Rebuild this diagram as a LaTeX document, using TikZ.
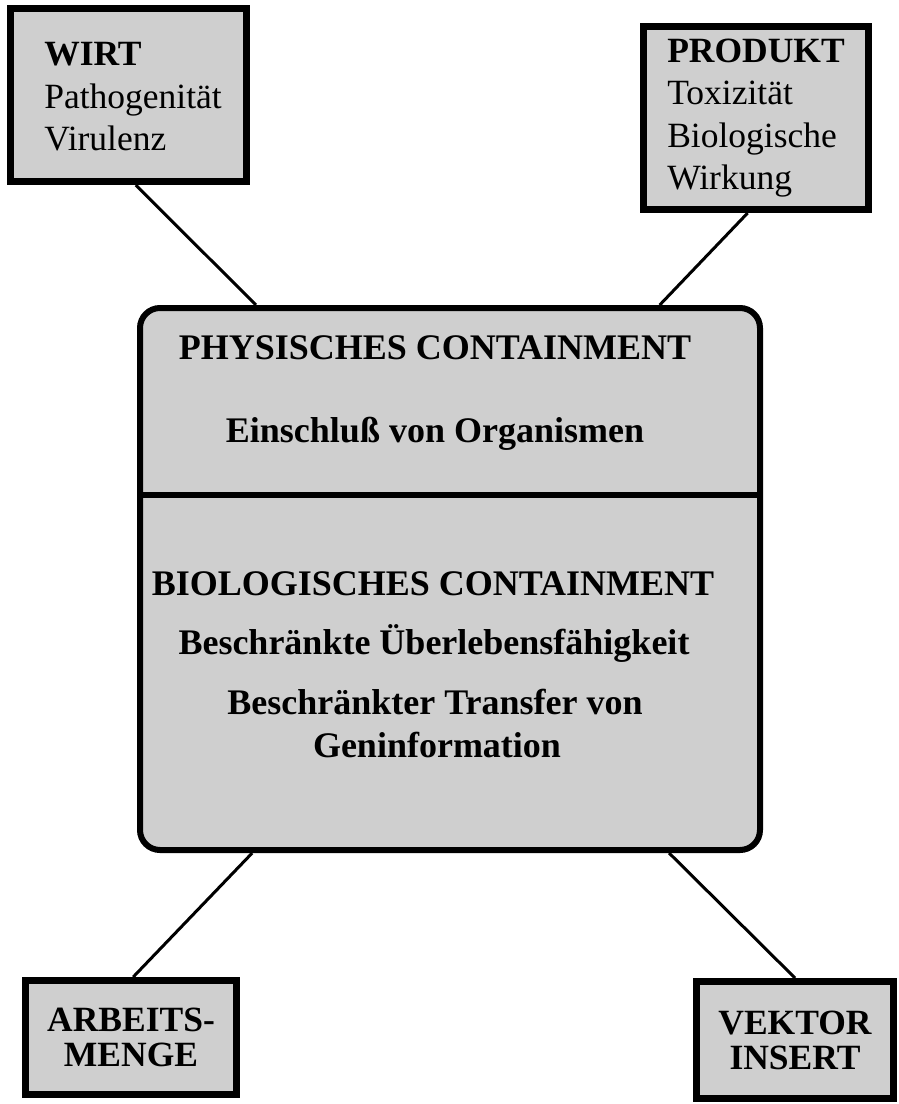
\documentclass[tikz,border=0pt]{standalone}
\usepackage{fontspec}
\setmainfont{Liberation Serif}
\usetikzlibrary{calc}
\definecolor{boxgray}{gray}{0.81}
\begin{document}
\begin{tikzpicture}[x=1pt,y=-1pt,
  cornerbox/.style={draw=black, line width=7pt, fill=boxgray, inner sep=0pt},
  toptext/.style={align=left, font=\fontsize{35.5}{42.5}\selectfont},
  bottext/.style={align=center, font=\fontsize{35.5}{35}\selectfont\bfseries},
  corebox/.style={draw=black, line width=6pt, fill=boxgray, rounded corners=20pt, inner sep=0pt},
  coretext/.style={anchor=base, font=\fontsize{36}{40}\selectfont\bfseries},
  conn/.style={draw=black, line width=3pt}]
\useasboundingbox (0,0) rectangle (899,1104);
\fill[white] (0,0) rectangle (899,1104);

% central box
\node[corebox, minimum width=620pt, minimum height=542pt] (core) at (450,579) {};
\draw[line width=6pt] (core.west |- 0,495) -- (core.east |- 0,495);
\node[coretext] (phys) at (435,359) {PHYSISCHES CONTAINMENT};
\node[coretext] (einschl) at (435,442) {Einschluß von Organismen};
\node[coretext] (bio) at (433,595) {BIOLOGISCHES CONTAINMENT};
\node[coretext] (ueber) at (434,654) {Beschränkte Überlebensfähigkeit};
\node[coretext] (transf) at (435,714) {Beschränkter Transfer von};
\node[coretext] (genin) at (437,757) {Geninformation};

% corner boxes
\node[cornerbox, minimum width=236pt, minimum height=173pt] (wirt) at (128.5,95) {};
\node[toptext] (wirtt) at (133,97) {\textbf{WIRT}\\Pathogenität\\Virulenz};
\node[cornerbox, minimum width=225pt, minimum height=183pt] (produkt) at (756,118) {};
\node[toptext] (produktt) at (produkt) {\textbf{PRODUKT}\\Toxizität\\Biologische\\Wirkung};
\node[cornerbox, minimum width=211pt, minimum height=114pt] (arbeit) at (131,1037.5) {};
\node[bottext] (arbeitt) at (arbeit) {ARBEITS-\\MENGE};
\node[cornerbox, minimum width=197pt, minimum height=117pt] (vektor) at (795,1040) {};
\node[bottext] (vektort) at (vektor) {VEKTOR\\INSERT};

% connectors
\draw[conn] ($(wirt.south west)!0.53!(wirt.south east)$) -- ($(core.north west)!0.19!(core.north east)$);
\draw[conn] ($(produkt.south west)!0.464!(produkt.south east)$) -- ($(core.north west)!0.835!(core.north east)$);
\draw[conn] ($(arbeit.north west)!0.51!(arbeit.north east)$) -- ($(core.south west)!0.184!(core.south east)$);
\draw[conn] (vektor.north) -- ($(core.south west)!0.85!(core.south east)$);
\end{tikzpicture}
\end{document}
